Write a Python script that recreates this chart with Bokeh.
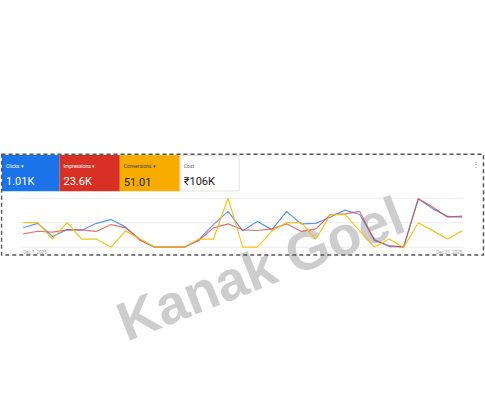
from bokeh.plotting import figure
from bokeh.models import Range1d
from bokeh.core.properties import value
from bokeh.embed import file_html
from bokeh.resources import INLINE

# ---------------- data ----------------
days = list(range(1, 32))
clicks = [31, 38, 17, 28, 27, 38, 44, 32, 12, 0, 0, 0, 12, 36, 57, 26,
          41, 28, 57, 37, 38, 48, 59, 52, 12, 1, 1, 77, 61, 49, 48]
impressions = [560, 670, 630, 730, 730, 660, 950, 810, 280, 0, 0, 0, 280, 810, 980, 730,
               700, 770, 980, 660, 770, 1370, 1400, 1500, 280, 70, 0, 2030, 1680, 1260, 1300]
conversions = [3, 3, 1, 3, 1, 1, 0, 2, 1, 0, 0, 0, 1, 1, 6, 0,
               0, 2, 3, 3, 1, 4, 4, 2, 0, 1, 0, 3, 2, 1, 2]
metric_names = ["Clicks", "Impressions", "Conversions", "Cost"]
metric_totals = ["1.01K", "23.6K", "51.01", "₹106K"]
x_labels = ["Dec 1, 2025", "Dec 31, 2025"]
axis_max = {"clk": 78, "imp": 2055, "conv": 6}
watermark = "Kanak Goel"

# ---------------- layout (page pixels) ----------------
W, H = 485, 408
X0, X1 = 22.7, 461.7       # first / last day
YB, YT = 246.7, 197.7      # value 0 / axis max

p = figure(width=W, height=H, output_backend="svg", toolbar_location=None,
           x_axis_type=None, y_axis_type=None, min_border=0,
           x_range=Range1d(0, W), y_range=Range1d(H, 0))
p.outline_line_color = None
p.grid.visible = False
p.background_fill_color = "white"
p.border_fill_color = "white"

ppd = (X1 - X0) / (days[-1] - days[0])
p.extra_x_ranges = {"day": Range1d(days[0] - X0 / ppd, days[0] + (W - X0) / ppd)}
ranges = {}
for k, vmax in axis_max.items():
    ppu = (YB - YT) / vmax
    ranges[k] = Range1d(-(H - YB) / ppu, YB / ppu)
p.extra_y_ranges = ranges

F = value("Roboto")

# cards
card_x = [1.5, 59, 119.3, 179.3, 238.7]
card_fill = ["#1a73e8", "#d93025", "#f9ab00", "#ffffff"]
label_col = ["#ffffff", "#ffffff", "#3c4043", "#5f6368"]
val_col = ["#ffffff", "#ffffff", "#202124", "#202124"]
p.quad(left=card_x[:4], right=card_x[1:], top=[154.5] * 4, bottom=[190.7] * 4,
       fill_color=card_fill, line_color=None)
p.quad(left=[179.8], right=[238.7], top=[155], bottom=[190.5], fill_color=None,
       line_color="#e3e3e3", line_width=1)
p.text(x=[c + 4 for c in card_x[:4]], y=[165] * 4,
       text=[n + (" ▾" if i < 3 else "") for i, n in enumerate(metric_names)],
       text_font=F, text_font_size="5px", text_color=label_col, text_baseline="middle")
p.text(x=[c + 4 for c in card_x[:4]], y=[181] * 4, text=metric_totals,
       text_font=F, text_font_size="11px", text_color=val_col, text_baseline="alphabetic")
p.text(x=[475], y=[164], text=["⋮"], text_font=F, text_font_size="8px",
       text_color="#8a8a8a", text_align="center", text_baseline="middle")

# gridlines
for gy in [YT, (YT + YB) / 2, YB]:
    p.segment(x0=[20], x1=[463], y0=[gy], y1=[gy], line_color="#ececec", line_width=1)

# watermark
p.text(x=[260], y=[268], text=[watermark], angle=21.5, angle_units="deg",
       text_font=value("Liberation Sans"), text_font_style="bold", text_font_size="55px",
       text_color="#c8c8c8", text_alpha=0.9, text_align="center", text_baseline="alphabetic")

# lines
p.line(days, clicks, x_range_name="day", y_range_name="clk",
       line_color="#4285f4", line_width=1.2, line_alpha=0.85)
p.line(days, impressions, x_range_name="day", y_range_name="imp",
       line_color="#d9473a", line_width=1.2, line_alpha=0.75)
p.line(days, conversions, x_range_name="day", y_range_name="conv",
       line_color="#fbbc04", line_width=1.2, line_alpha=0.9)

# x labels
p.text(x=[X0, X1], y=[251.5, 251.5], text=x_labels, text_font=F, text_font_size="4.5px",
       text_color="#9aa0a6", text_align=["left", "right"], text_baseline="middle")

# dashed frame
p.quad(left=[1], right=[483], top=[153.7], bottom=[254.5], fill_color=None,
       line_color="#555555", line_width=1.5, line_dash="4 3")

open("out.html", "w").write(file_html(p, INLINE))
